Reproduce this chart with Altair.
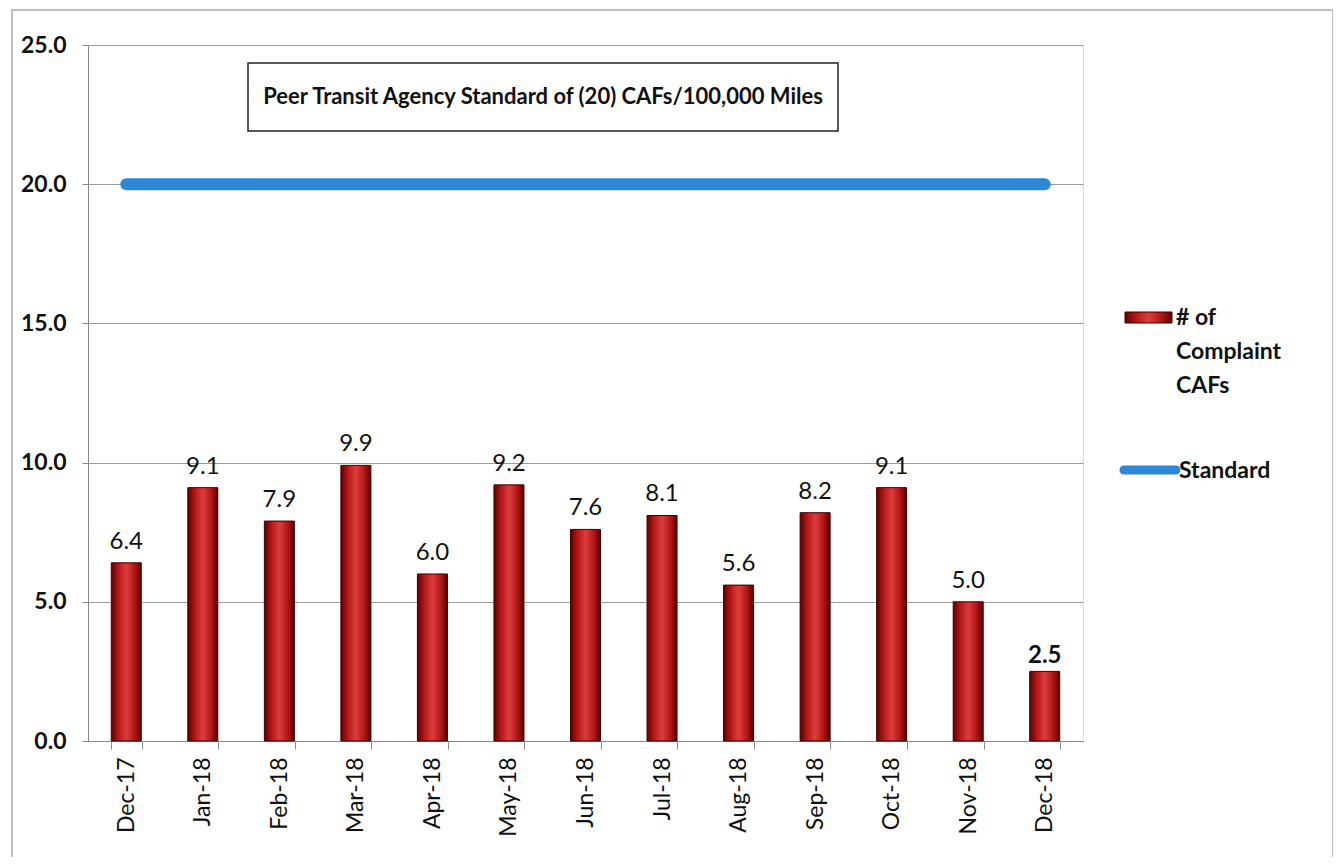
import altair as alt
import pandas as pd

months = ["Dec-17", "Jan-18", "Feb-18", "Mar-18", "Apr-18", "May-18", "Jun-18",
          "Jul-18", "Aug-18", "Sep-18", "Oct-18", "Nov-18", "Dec-18"]
cafs = [6.4, 9.1, 7.9, 9.9, 6.0, 9.2, 7.6, 8.1, 5.6, 8.2, 9.1, 5.0, 2.5]
standard = [20.0, 20.0, 20.0, 20.0, 20.0, 20.0, 20.0, 20.0, 20.0, 20.0, 20.0, 20.0, 20.0]
y_ticks = [0, 5, 10, 15, 20, 25]
title_text = "Peer Transit Agency Standard of (20) CAFs/100,000 Miles"
legend_bar = ["# of", "Complaint", "CAFs"]
legend_line = "Standard"

df = pd.DataFrame({"Month": months, "CAFs": cafs, "Standard": standard})
one = pd.DataFrame({"k": [0]})

FONT = "Lato"
W, H = 995, 696
BLUE = "#2e88d6"

red_grad = alt.Gradient(
    gradient="linear", x1=0, x2=1, y1=0, y2=0,
    stops=[alt.GradientStop(color="#5e0000", offset=0),
           alt.GradientStop(color="#b81a1a", offset=0.25),
           alt.GradientStop(color="#dc3c3c", offset=0.5),
           alt.GradientStop(color="#b81a1a", offset=0.75),
           alt.GradientStop(color="#5e0000", offset=1)])

xenc = alt.X("Month:N", sort=months, title=None,
             scale=alt.Scale(paddingInner=0.6, paddingOuter=0.3),
             axis=alt.Axis(labelAngle=270, labelFontSize=23, labelFont=FONT,
                           labelColor="#111", tickBand="extent", tickSize=8,
                           tickColor="#888", domainColor="#888", labelPadding=8,
                           labelAlign="right", labelBaseline="middle"))
yenc = alt.Y("CAFs:Q", title=None,
             scale=alt.Scale(domain=[0, 25], nice=False),
             axis=alt.Axis(values=y_ticks, format=".1f", labelFontSize=23,
                           labelFont=FONT, labelFontWeight="bold", labelColor="#111",
                           tickSize=6, tickColor="#888", domainColor="#888",
                           gridColor="#9a9a9a", gridWidth=1, labelPadding=16))

base = alt.Chart(df)

bars = base.mark_bar(size=30, fill=red_grad, stroke="#3c0000", strokeWidth=1).encode(
    x=xenc, y=yenc)

line = base.mark_line(color=BLUE, strokeWidth=12, strokeCap="round").encode(
    x=alt.X("Month:N", sort=months), y=alt.Y("Standard:Q"))

labels = base.transform_filter(alt.datum.Month != "Dec-18").mark_text(
    baseline="alphabetic", dy=-14, fontSize=24, font=FONT, color="#111").encode(
    x=alt.X("Month:N", sort=months), y="CAFs:Q", text=alt.Text("CAFs:Q", format=".1f"))

label_last = base.transform_filter(alt.datum.Month == "Dec-18").mark_text(
    baseline="alphabetic", dy=-8, fontSize=24, font=FONT, fontWeight="bold", color="#111").encode(
    x=alt.X("Month:N", sort=months), y="CAFs:Q", text=alt.Text("CAFs:Q", format=".1f"))

# outer frame
frame = alt.Chart(one).mark_rect(fill=None, stroke="#aaaaaa", strokeWidth=1.5).encode(
    x=alt.value(-76), x2=alt.value(1245), y=alt.value(-35), y2=alt.value(813))

# title box
tbox = alt.Chart(one).mark_rect(fill="white", stroke="#222", strokeWidth=1.5).encode(
    x=alt.value(160), x2=alt.value(750), y=alt.value(18), y2=alt.value(86))
ttext = alt.Chart(one).mark_text(fontSize=22, font=FONT, fontWeight="bold", color="#111").encode(
    x=alt.value(455), y=alt.value(52), text=alt.value(title_text))

# legend
leg_bar = alt.Chart(one).mark_rect(fill=red_grad, stroke="#3c0000").encode(
    x=alt.value(1037), x2=alt.value(1084), y=alt.value(267), y2=alt.value(278))
leg_bar_txt = alt.Chart(one).mark_text(fontSize=23, font=FONT, fontWeight="bold",
                                       color="#111", align="left", lineHeight=34,
                                       baseline="middle").encode(
    x=alt.value(1088), y=alt.value(273), text=alt.value(legend_bar))
leg_line = alt.Chart(one).mark_rule(color=BLUE, strokeWidth=9, strokeCap="round").encode(
    x=alt.value(1036), x2=alt.value(1088), y=alt.value(425))
leg_line_txt = alt.Chart(one).mark_text(fontSize=23, font=FONT, fontWeight="bold",
                                        color="#111", align="left", baseline="middle").encode(
    x=alt.value(1091), y=alt.value(426), text=alt.value(legend_line))

chart = alt.layer(frame, bars, line, labels, label_last, tbox, ttext,
                  leg_bar, leg_bar_txt, leg_line, leg_line_txt).properties(
    width=W, height=H,
    autosize=alt.AutoSizeParams(type="none"),
    padding={"left": 80, "top": 37, "right": 250, "bottom": 116},
).configure_view(stroke=None).configure(background="white")

chart.save("out.html", embed_options={"renderer": "svg", "actions": False})
